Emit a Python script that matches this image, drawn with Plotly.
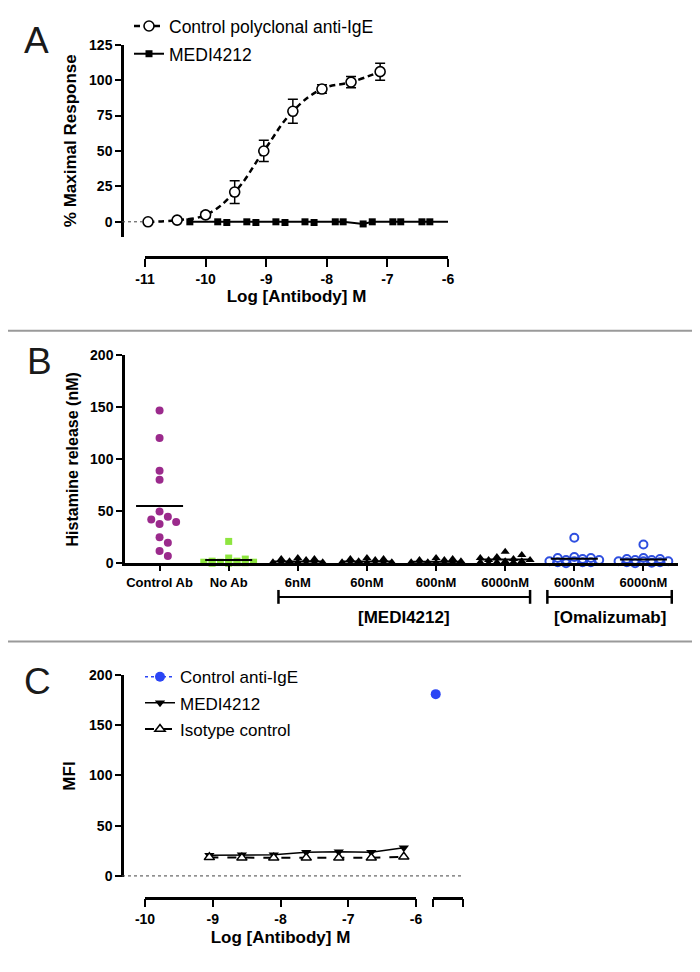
import numpy as np
import plotly.graph_objects as go

# page body has an 8px default margin; map reference pixel positions accordingly
OFF = 8
W, H = 684, 956
def fx(px): return (px - OFF) / W
def fy(py): return 1 - (py - OFF) / H

FONT = "Liberation Sans, Arial, Helvetica, sans-serif"

# ---------------- Panel A data ----------------
a_ctrl_x = [-10.95, -10.47, -10.0, -9.52, -9.04, -8.56, -8.08, -7.60, -7.12]
a_ctrl_y = [0, 1.2, 4.9, 21, 50, 78, 93.7, 98.6, 106]
a_ctrl_err = [0.5, 1, 2, 8, 7.5, 8.5, 3, 4, 6]
a_medi_x = [-10.26, -9.80, -9.65, -9.32, -9.17, -8.84, -8.69, -8.36, -8.21,
            -7.86, -7.73, -7.40, -7.25, -6.91, -6.78, -6.43, -6.30]
a_medi_y = [0, 0, -0.5, 0, -0.5, 0, -0.5, 0, -0.5, 0, 0, -1.5, 0, 0, 0, 0, 0]
A_XRANGE = [-11, -6]
A_YRANGE = [-10.5, 125]
a_xticks = [-11, -10, -9, -8, -7, -6]
a_yticks = [0, 25, 50, 75, 100, 125]

# ---------------- Panel B data ----------------
b_categories = ["Control Ab", "No Ab", "6nM", "60nM", "600nM", "6000nM", "600nM", "6000nM"]
b_control_ab = [147, 120.6, 88.9, 80.3, 49.8, 42.2, 37.8, 39.7, 44.8, 25.1, 19.7, 11.7, 7]
b_no_ab = [21, 5, 4, 2, 2, 1, 1, 1, 1, 0.5, 0.5, 0, 0]
b_medi_6 = [5, 4, 4, 3, 2, 1, 1, 1, 0.5, 0.5, 0, 0, 0]
b_medi_60 = [5, 4, 4, 3, 2, 1, 1, 0.5, 0.5, 0, 0, 0, 0]
b_medi_600 = [5, 4, 3, 3, 2, 1, 1, 0.5, 0.5, 0, 0, 0, 0]
b_medi_6000 = [11, 8, 6, 5, 4, 3, 3, 2, 2, 1, 1, 1, 0]
b_oma_600 = [24.6, 6, 5, 5, 4, 3, 3, 2, 2, 1, 1, 1, 0]
b_oma_6000 = [18, 5, 4, 4, 3, 3, 2, 2, 2, 1, 1, 0.5, 0]
b_yticks = [0, 50, 100, 150, 200]
b_brackets = [("[MEDI4212]", 1.72, 5.36), ("[Omalizumab]", 5.61, 7.41)]

# ---------------- Panel C data ----------------
c_x = [-9.05, -8.57, -8.10, -7.62, -7.14, -6.66, -6.18]
c_medi = [20.5, 21, 21, 23.5, 24, 23.5, 28]
c_iso = [18.5, 18, 18, 18, 18, 18, 19]
c_ctrl_x = [-5.71]
c_ctrl_y = [181]
C_XRANGE = [-10, -6]
C_XRANGE2 = [-5.75, -5.31]
c_xticks = [-10, -9, -8, -7, -6]
c_yticks = [0, 50, 100, 150, 200]

fig = go.Figure()

# ---------- Panel A traces ----------
fig.add_trace(go.Scatter(
    x=a_ctrl_x, y=a_ctrl_y, mode="lines+markers", name="Control polyclonal anti-IgE",
    line=dict(color="black", width=2.5, dash="6px,4px", shape="spline", smoothing=1.2),
    marker=dict(symbol="circle", size=10, color="white", line=dict(color="black", width=1.6)),
    error_y=dict(type="data", array=a_ctrl_err, color="black", thickness=1.5, width=5),
    xaxis="x", yaxis="y", legend="legend", legendgroup="a1", cliponaxis=False))
fig.add_trace(go.Scatter(
    x=a_medi_x, y=a_medi_y, mode="lines+markers", name="MEDI4212",
    line=dict(color="black", width=2),
    marker=dict(symbol="square", size=7, color="black"),
    xaxis="x", yaxis="y", legend="legend", legendgroup="a2", cliponaxis=False))

# ---------- Panel B traces ----------
def swarm(vals, center, slot=0.12, maxslot=3, xpx=69.2, ypx=1.05, dist=9.0):
    order = sorted(range(len(vals)), key=lambda i: -vals[i])
    placed = []
    xs = [0.0] * len(vals)
    ks = [0]
    for k in range(1, maxslot + 1):
        ks += [k, -k]
    for i in order:
        chosen, bestd, bestx = None, -1, 0
        for k in ks:
            xo = k * slot
            d = min([np.hypot((xo - px) * xpx, (vals[i] - py) * ypx) for px, py in placed] or [1e9])
            if d >= dist:
                chosen = xo
                break
            if d > bestd:
                bestd, bestx = d, xo
        if chosen is None:
            chosen = bestx
        placed.append((chosen, vals[i]))
        xs[i] = center + chosen
    return xs

b_groups = [
    (b_control_ab, dict(symbol="circle", size=8, color="#9b2a8c")),
    (b_no_ab, dict(symbol="square", size=7, color="#8ee53f")),
    (b_medi_6, dict(symbol="triangle-up", size=8, color="black")),
    (b_medi_60, dict(symbol="triangle-up", size=8, color="black")),
    (b_medi_600, dict(symbol="triangle-up", size=8, color="black")),
    (b_medi_6000, dict(symbol="triangle-up", size=8, color="black")),
    (b_oma_600, dict(symbol="circle-open", size=8, color="#2f4fe0", line=dict(width=2, color="#2f4fe0"))),
    (b_oma_6000, dict(symbol="circle-open", size=8, color="#2f4fe0", line=dict(width=2, color="#2f4fe0"))),
]
for i, (vals, mk) in enumerate(b_groups):
    fig.add_trace(go.Scatter(
        x=swarm(vals, i), y=vals, mode="markers", marker=mk, showlegend=False,
        xaxis="x2", yaxis="y2", cliponaxis=False))

# ---------- Panel C traces ----------
fig.add_trace(go.Scatter(
    x=c_ctrl_x, y=c_ctrl_y, mode="lines+markers", name="Control anti-IgE",
    line=dict(color="#2b45f5", width=1.5, dash="dot"),
    marker=dict(symbol="circle", size=10, color="#2b45f5"),
    xaxis="x4", yaxis="y3", legend="legend2", legendgroup="c1", cliponaxis=False))
fig.add_trace(go.Scatter(
    x=c_x, y=c_medi, mode="lines+markers", name="MEDI4212",
    line=dict(color="black", width=1.5),
    marker=dict(symbol="triangle-down", size=9, color="black"),
    xaxis="x3", yaxis="y3", legend="legend2", legendgroup="c2", cliponaxis=False))
fig.add_trace(go.Scatter(
    x=c_x, y=c_iso, mode="lines+markers", name="Isotype control",
    line=dict(color="black", width=2, dash="dash"),
    marker=dict(symbol="triangle-up", size=9, color="white", line=dict(color="black", width=1.5)),
    xaxis="x3", yaxis="y3", legend="legend2", legendgroup="c3", cliponaxis=False))

# ---------- axes ----------
tickfont = dict(family=FONT, size=14, color="black", weight="bold")
titlefont = dict(family=FONT, size=17, color="black", weight="bold")
common = dict(showgrid=False, zeroline=False, showline=True, linecolor="black", linewidth=2.5,
              ticks="outside", tickcolor="black", tickwidth=2, tickfont=tickfont, automargin=False)

def lab(v): return [str(t) for t in v]

layout = dict(
    template="none",
    width=W, height=H, margin=dict(l=0, r=0, t=0, b=0, pad=0), autosize=False,
    paper_bgcolor="white", plot_bgcolor="white",
    font=dict(family=FONT, color="black"),
    xaxis=dict(domain=[fx(145), fx(448)], range=A_XRANGE, anchor="free", position=fy(250),
               tickvals=a_xticks, ticktext=lab(a_xticks), ticklen=8,
               title=dict(text="Log [Antibody] M", font=titlefont, standoff=4), **common),
    yaxis=dict(domain=[fy(229), fy(35)], range=A_YRANGE, anchor="free", position=fx(122),
               tickvals=a_yticks, ticktext=lab(a_yticks), ticklen=6,
               title=dict(text="% Maximal Response", font=titlefont, standoff=7), **common),
    xaxis2=dict(domain=[fx(125), fx(678)], range=[-0.5, 7.5], anchor="y2",
                tickvals=list(range(len(b_categories))), ticktext=b_categories,
                ticklen=5, **{**common, "tickfont": dict(family=FONT, size=13, color="black", weight="bold")}),
    yaxis2=dict(domain=[fy(559), fy(349)], range=[0, 200], anchor="x2",
                tickvals=b_yticks, ticktext=lab(b_yticks), ticklen=6,
                title=dict(text="Histamine release (nM)", font=dict(family=FONT, size=16, color="black", weight="bold"),
                           standoff=8), **common),
    xaxis3=dict(domain=[fx(145), fx(416)], range=C_XRANGE, anchor="free", position=fy(897),
                tickvals=c_xticks, ticktext=lab(c_xticks), ticklen=8,
                title=dict(text="Log [Antibody] M", font=titlefont, standoff=4), **common),
    xaxis4=dict(domain=[fx(433), fx(463)], range=C_XRANGE2, anchor="free", position=fy(897),
                tickvals=C_XRANGE2, showticklabels=False, ticklen=8, **common),
    yaxis3=dict(domain=[fy(876), fy(672)], range=[-1, 200], anchor="free", position=fx(122),
                tickvals=c_yticks, ticktext=lab(c_yticks), ticklen=6,
                title=dict(text="MFI", font=titlefont, standoff=8), **common),
    legend=dict(x=fx(129), y=fy(-2), xanchor="left", yanchor="top", bgcolor="rgba(0,0,0,0)",
                font=dict(family=FONT, size=17.5, color="black"), tracegroupgap=2,
                itemwidth=30),
    legend2=dict(x=fx(140), y=fy(656), xanchor="left", yanchor="top", bgcolor="rgba(0,0,0,0)",
                 font=dict(family=FONT, size=17, color="black"), tracegroupgap=1,
                 itemwidth=30),
)
fig.update_layout(**layout)

shapes = []
# panel separators
for py in (324, 638):
    shapes.append(dict(type="line", xref="paper", yref="paper", x0=0, x1=1, y0=fy(py), y1=fy(py),
                       line=dict(color="#9a9a9a", width=2)))
# panel A dotted baseline from y axis to first point
shapes.append(dict(type="line", xref="paper", yref="y", x0=fx(122), x1=fx(145), y0=0, y1=0,
                   line=dict(color="#444", width=1, dash="dot")))
# panel A MEDI4212 flat fit continues to axis end
shapes.append(dict(type="line", xref="x", yref="y", x0=a_medi_x[-1], x1=A_XRANGE[1],
                   y0=a_medi_y[-1], y1=a_medi_y[-1], line=dict(color="black", width=2)))
# panel B mean lines
for i, (vals, _) in enumerate(b_groups):
    m = float(np.mean(vals))
    shapes.append(dict(type="line", xref="x2", yref="y2", x0=i - 0.34, x1=i + 0.34, y0=m, y1=m,
                       line=dict(color="black", width=2), layer="above"))
# panel B brackets
for label, x0, x1 in b_brackets:
    shapes.append(dict(type="line", xref="x2", yref="paper", x0=x0, x1=x1, y0=fy(593), y1=fy(593),
                       line=dict(color="black", width=2)))
    for xe in (x0, x1):
        shapes.append(dict(type="line", xref="x2", yref="paper", x0=xe, x1=xe, y0=fy(586), y1=fy(600),
                           line=dict(color="black", width=2.5)))
# panel C dotted baseline
shapes.append(dict(type="line", xref="paper", yref="y3", x0=fx(122), x1=fx(463), y0=0, y1=0,
                   line=dict(color="#444", width=1, dash="dot")))
fig.update_layout(shapes=shapes)

annotations = []
for letter, px, py in (("A", 36, 31), ("B", 39, 355), ("C", 37, 679)):
    annotations.append(dict(text=letter, x=fx(px), y=fy(py), xref="paper", yref="paper",
                            showarrow=False, font=dict(family=FONT, size=37, color="#1a1a1a"),
                            xanchor="center", yanchor="middle"))
for label, x0, x1 in b_brackets:
    annotations.append(dict(text=label, x=(x0 + x1) / 2, y=fy(614), xref="x2", yref="paper",
                            showarrow=False, font=dict(family=FONT, size=17, color="black", weight="bold"),
                            xanchor="center", yanchor="middle"))
fig.update_layout(annotations=annotations)

fig.write_html("out.html")
